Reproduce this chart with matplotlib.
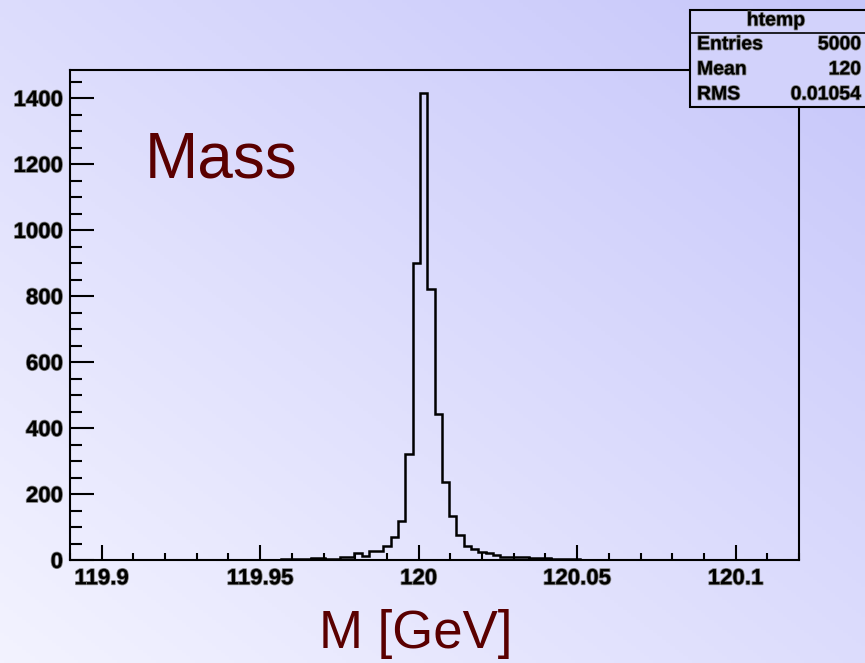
import numpy as np
import matplotlib
matplotlib.use("Agg")
import matplotlib.pyplot as plt
import matplotlib.patheffects as pe
from matplotlib.ticker import MultipleLocator, FixedLocator
from matplotlib.patches import Rectangle
from matplotlib.lines import Line2D

# ---- data ----
x_min, x_max, n_bins = 119.89, 120.12, 100
counts = [0] * 100
tail_vals = {
    26: 1, 27: 1, 28: 1, 29: 2, 30: 2, 31: 3, 32: 4, 33: 5, 34: 5, 35: 3, 36: 4,
    37: 8, 38: 9, 39: 20, 40: 11, 41: 28, 42: 28, 43: 42, 44: 71, 45: 118,
    46: 320, 47: 900, 48: 1415, 49: 820, 50: 442, 51: 237, 52: 134, 53: 76,
    54: 41, 55: 32, 56: 25, 57: 20, 58: 15, 59: 10, 60: 10, 61: 9, 62: 8,
    63: 6, 64: 5, 65: 5, 66: 4, 67: 4, 68: 2, 69: 2, 70: 1, 72: 1, 75: 1,
}
for k, v in tail_vals.items():
    counts[k] = v
x_ticks = [119.9, 119.95, 120.0, 120.05, 120.1]
x_tick_labels = ["119.9", "119.95", "120", "120.05", "120.1"]
y_ticks = [0, 200, 400, 600, 800, 1000, 1200, 1400]
y_tick_labels = ["0", "200", "400", "600", "800", "1000", "1200", "1400"]
stats_title = "htemp"
stats_names = ["Entries", "Mean", "RMS"]
stats_values = ["5000", "120", "0.01054"]
title_text = "Mass"
xlabel_text = "M [GeV]"

W, H = 865, 663
fig = plt.figure(figsize=(W / 100, H / 100), dpi=100)
plt.rcParams['font.family'] = ['Liberation Sans', 'DejaVu Sans']

# background gradient
bg = fig.add_axes([0, 0, 1, 1], zorder=-10)
xs = np.linspace(0, 1, 200)
ys = np.linspace(0, 1, 200)
X, Y = np.meshgrid(xs, ys)  # Y=0 at top (imshow origin upper)
t = (X + (1 - Y)) / 2.0
light = np.array([243, 243, 255]) / 255.0
dark = np.array([198, 198, 250]) / 255.0
img = light[None, None, :] + (dark - light)[None, None, :] * t[..., None]
bg.imshow(img, aspect='auto', extent=[0, 1, 0, 1], origin='upper')
bg.axis('off')

# main axes
L, R, T, B = 70, 799, 70, 560
ax = fig.add_axes([L / W, 1 - B / H, (R - L) / W, (B - T) / H])
ax.set_facecolor('none')
edges = np.linspace(x_min, x_max, n_bins + 1)
ax.stairs(counts, edges, color='black', lw=1.8)
ax.set_xlim(x_min, x_max)
ax.set_ylim(0, 1485)

ax.xaxis.set_major_locator(FixedLocator(x_ticks))
ax.set_xticklabels(x_tick_labels)
ax.xaxis.set_minor_locator(MultipleLocator(0.01))
ax.yaxis.set_major_locator(FixedLocator(y_ticks))
ax.set_yticklabels(y_tick_labels)
ax.yaxis.set_minor_locator(MultipleLocator(50))

ax.tick_params(axis='x', which='major', direction='in', length=11, width=1.5, pad=6,
               top=False, labelsize=16)
ax.tick_params(axis='x', which='minor', direction='in', length=5, width=1.5, top=False)
ax.tick_params(axis='y', which='major', direction='in', length=17, width=1.5, pad=5,
               right=False, labelsize=16)
ax.tick_params(axis='y', which='minor', direction='in', length=8.5, width=1.5, right=False)
shadow = [pe.withStroke(linewidth=1.2, foreground='#808080')]
for lab in ax.get_xticklabels() + ax.get_yticklabels():
    lab.set_fontweight('bold')
    lab.set_path_effects(shadow)
for sp in ax.spines.values():
    sp.set_linewidth(1.5)

dark_red = '#5a0000'
fig.text(145 / W, 1 - 160 / H, title_text, fontsize=46, color=dark_red,
         ha='left', va='center')
fig.text(416 / W, 1 - 634 / H, xlabel_text, fontsize=38, color=dark_red,
         ha='center', va='center')

# stats box
bx0, by0, by1 = 690, 10, 107
box = Rectangle((bx0 / W, 1 - by1 / H), 0.3, (by1 - by0) / H, transform=fig.transFigure,
                facecolor='#d2d2fb', edgecolor='black', lw=1.5, zorder=20)
fig.patches.append(box)
fig.lines.append(Line2D([bx0 / W, 1.0], [1 - 33 / H, 1 - 33 / H], transform=fig.transFigure,
                        color='black', lw=1.2, zorder=21))
fig.text(776 / W, 1 - 21 / H, stats_title, fontsize=14, fontweight='bold',
         ha='center', va='center', zorder=22, path_effects=shadow)
for i, (n, v) in enumerate(zip(stats_names, stats_values)):
    yy = 1 - (45 + 25 * i) / H
    fig.text(697 / W, yy, n, fontsize=14, fontweight='bold', ha='left', va='center',
             zorder=22, path_effects=shadow)
    fig.text(861 / W, yy, v, fontsize=14, fontweight='bold', ha='right', va='center',
             zorder=22, path_effects=shadow)

fig.savefig('out.png', dpi=100)
